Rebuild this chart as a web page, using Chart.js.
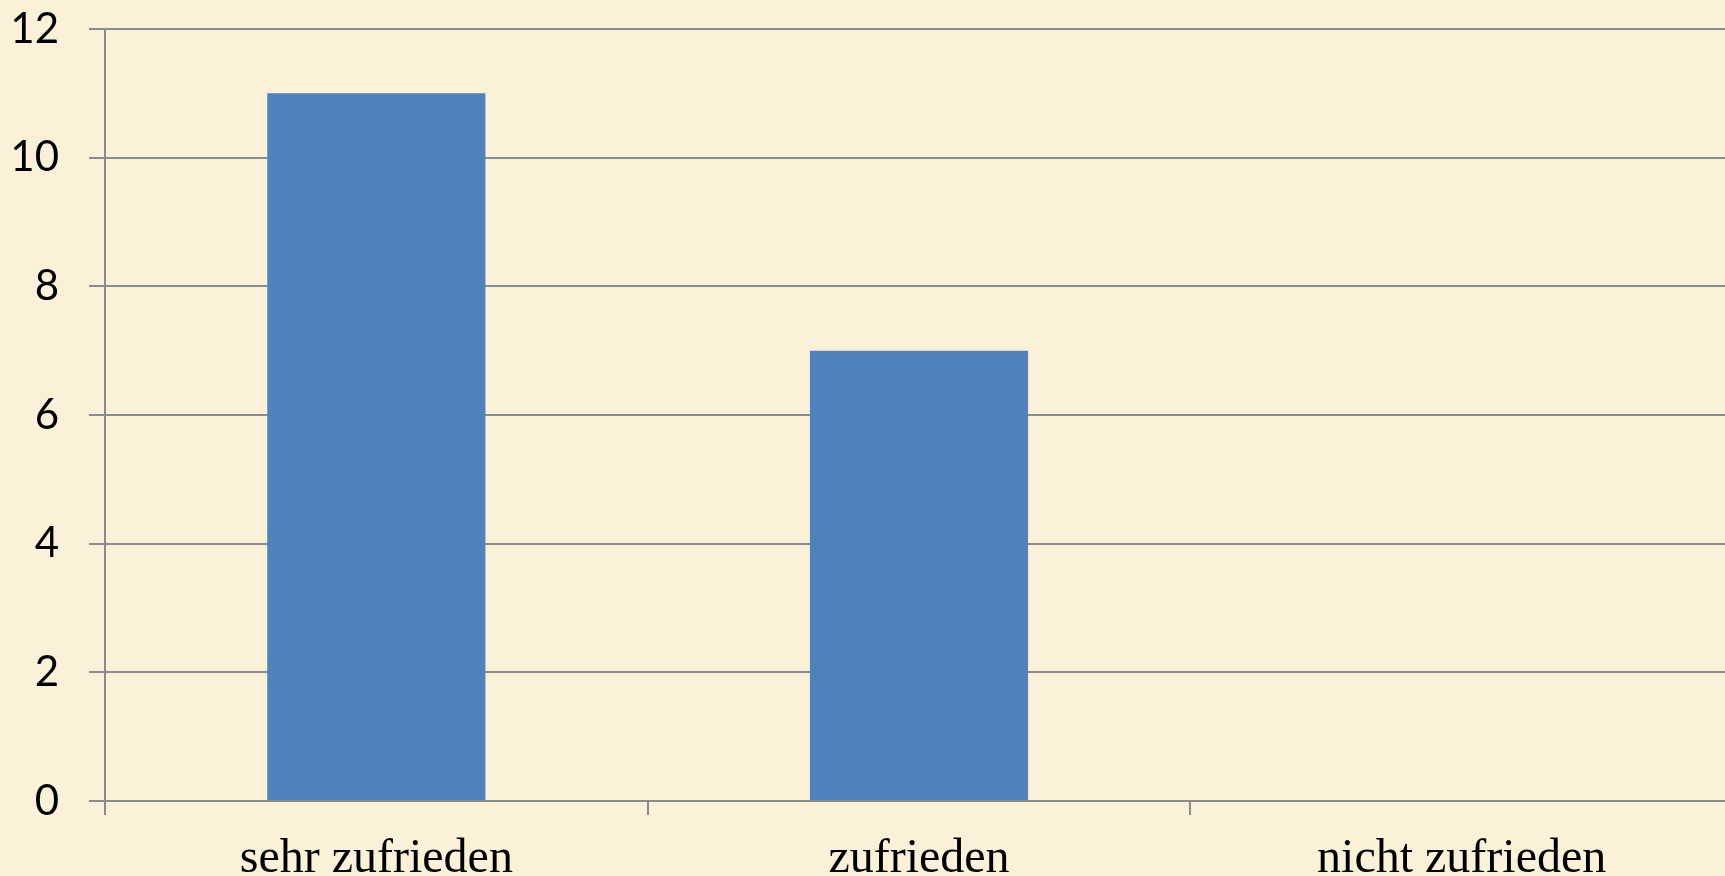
<!DOCTYPE html>
<html lang="de">
<head>
    <meta charset="UTF-8">
    <title>Zufriedenheit</title>
    <script src="https://cdn.jsdelivr.net/npm/chart.js"></script>
    <style>
        html, body {
            margin: 0;
            padding: 0;
            background-color: #fbf0d8;
        }

        .chart-container {
            position: relative;
            width: 1725px;
            height: 876px;
        }
    </style>
</head>
<body>
    <div class="chart-container">
        <canvas id="satisfaction-chart"></canvas>
    </div>

    <script>
        // Data
        const categories = ['sehr zufrieden', 'zufrieden', 'nicht zufrieden'];
        const counts = [11, 7, 0];
        const yTicks = [0, 2, 4, 6, 8, 10, 12];

        const gridColor = '#8c8c8c';

        // the plot area in the original runs a few pixels past the right edge
        const stretchRight = {
            id: 'stretchRight',
            afterLayout: (chart) => {
                const x = chart.scales.x;
                x.right += 8;
                x.width += 8;
                x.configure();
            }
        };

        const ctx = document.getElementById('satisfaction-chart').getContext('2d');

        new Chart(ctx, {
            type: 'bar',
            data: {
                labels: categories,
                datasets: [{
                    label: 'Anzahl',
                    data: counts,
                    backgroundColor: '#4f81bd',
                    borderWidth: 0,
                    categoryPercentage: 1.0,
                    barPercentage: 0.402
                }]
            },
            options: {
                responsive: true,
                maintainAspectRatio: false,
                animation: false,
                layout: {
                    padding: { top: 29, right: 0, bottom: 0, left: 0 }
                },
                plugins: {
                    legend: { display: false },
                    tooltip: { enabled: false }
                },
                scales: {
                    x: {
                        afterFit: (scale) => {
                            scale.height = 75;
                            scale.paddingLeft = 0;
                            scale.paddingRight = 0;
                        },
                        grid: {
                            offset: true,
                            drawOnChartArea: false,
                            drawTicks: true,
                            tickLength: 14,
                            color: gridColor,
                            lineWidth: 2
                        },
                        border: { display: true, color: gridColor, width: 2 },
                        ticks: {
                            color: '#000000',
                            padding: 20,
                            font: { family: '"Liberation Serif", "Times New Roman", serif', size: 48, lineHeight: 1.0 }
                        }
                    },
                    y: {
                        min: 0,
                        max: 12,
                        afterBuildTicks: (scale) => {
                            scale.ticks = yTicks.map((v) => ({ value: v }));
                        },
                        afterFit: (scale) => {
                            scale.width = 105;
                            scale.paddingTop = 0;
                            scale.paddingBottom = 0;
                        },
                        grid: {
                            color: gridColor,
                            lineWidth: 2,
                            drawTicks: true,
                            tickLength: 16
                        },
                        border: { display: true, color: gridColor, width: 2 },
                        ticks: {
                            color: '#000000',
                            padding: 30,
                            font: { family: 'Lato, "Liberation Sans", sans-serif', size: 42 }
                        }
                    }
                }
            },
            plugins: [stretchRight]
        });
    </script>
</body>
</html>
